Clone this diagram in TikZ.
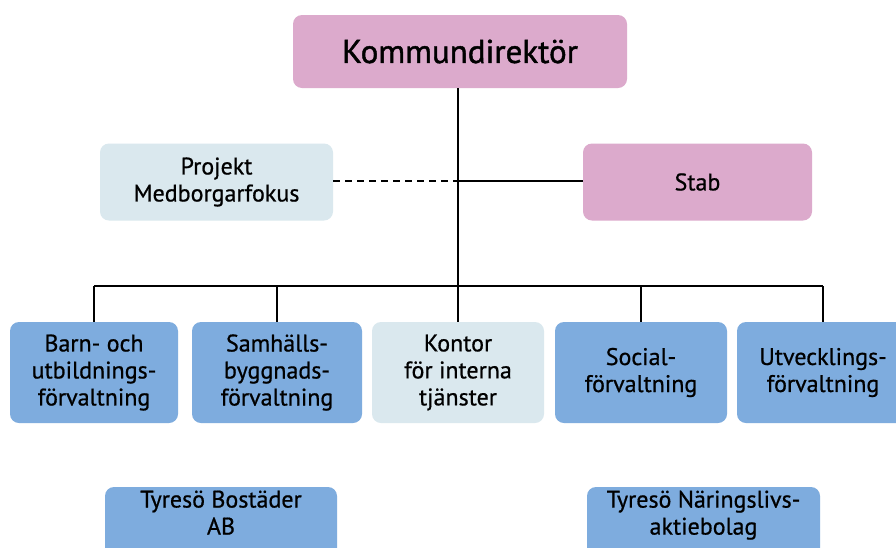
\documentclass[tikz,border=0pt]{standalone}
\usepackage{fontspec}
\setmainfont{PT Sans}
\newfontfamily\bodyfont{PT Sans}[FakeBold=0.7]
\newfontfamily\headfont{PT Sans}[FakeBold=1.3]
\definecolor{pinkbox}{RGB}{220,170,204}
\definecolor{paleblue}{RGB}{218,232,238}
\definecolor{midblue}{RGB}{126,172,222}
\begin{document}
\begin{tikzpicture}[x=1pt,y=-1pt,
  box/.style={rounded corners=9pt, inner sep=0pt, align=center, font=\bodyfont\fontsize{24}{27}\selectfont},
  conn/.style={line width=1.4pt, black}]
\clip (0,0) rectangle (896,547);
\fill[white] (0,0) rectangle (896,547);
% boxes
\node[box, fill=pinkbox, minimum width=334pt, minimum height=73pt, font=\headfont\fontsize{33}{36}\selectfont] (kd) at (460,51.5) {Kommundirektör};
\node[box, fill=paleblue, minimum width=233pt, minimum height=77pt] (proj) at (216.5,182) {Projekt\\Medborgarfokus};
\node[box, fill=pinkbox, minimum width=229pt, minimum height=77pt] (stab) at (697.5,182) {Stab};
\node[box, fill=midblue, minimum width=168pt, minimum height=101pt] (barn) at (94,372.5) {Barn- och\\utbildnings-\\förvaltning};
\node[box, fill=midblue, minimum width=170pt, minimum height=101pt] (samh) at (277,372.5) {Samhälls-\\byggnads-\\förvaltning};
\node[box, fill=paleblue, minimum width=172pt, minimum height=101pt] (kont) at (458,372.5) {Kontor\\för interna\\tjänster};
\node[box, fill=midblue, minimum width=172pt, minimum height=101pt] (soc) at (641,372.5) {Social-\\förvaltning};
\node[box, fill=midblue, minimum width=172pt, minimum height=101pt] (utv) at (823,372.5) {Utvecklings-\\förvaltning};
\node[box, fill=midblue, minimum width=232pt, minimum height=80pt] (bost) at (221,527) {};
\node[box, fill=midblue, minimum width=233pt, minimum height=80pt] (nar) at (703.5,527) {};
\node[font=\bodyfont\fontsize{24}{27}\selectfont, align=center, anchor=north] (bostt) at (221,487) {Tyresö Bostäder\\AB};
\node[font=\bodyfont\fontsize{24}{27}\selectfont, align=center, anchor=north] (nart) at (703.5,487) {Tyresö Näringslivs-\\aktiebolag};
% connectors
\coordinate (bus) at (458,286);
\coordinate (mid) at (458,181);
\draw[conn] (kd.south -| bus) -- (bus);
\draw[conn] (mid) -- (stab.west |- mid);
\draw[conn, dashed, dash pattern=on 7pt off 5pt] (proj.east |- mid) -- (mid);
\draw[conn] (barn.north |- bus) -- (utv.north |- bus);
\draw[conn] (barn.north |- bus) -- (barn.north);
\draw[conn] (samh.north |- bus) -- (samh.north);
\draw[conn] (kont.north |- bus) -- (kont.north);
\draw[conn] (soc.north |- bus) -- (soc.north);
\draw[conn] (utv.north |- bus) -- (utv.north);
\end{tikzpicture}
\end{document}
